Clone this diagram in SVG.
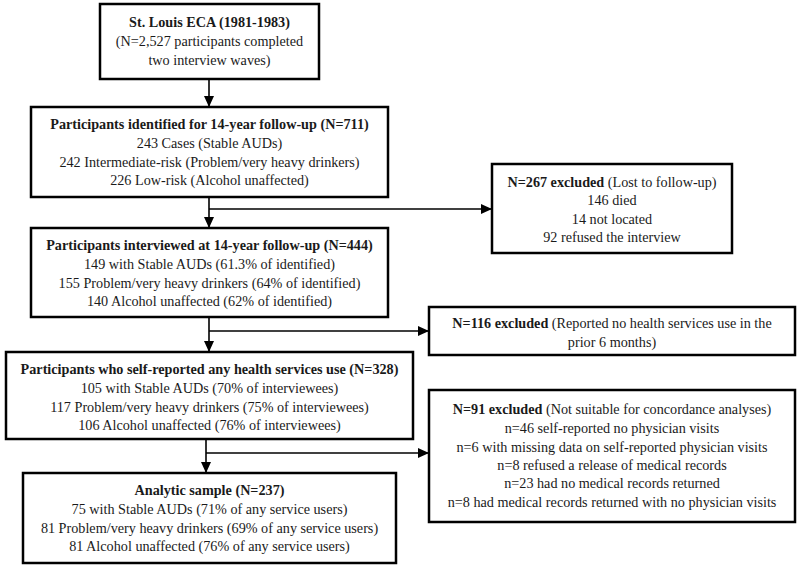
<svg xmlns="http://www.w3.org/2000/svg" width="800" height="569" viewBox="0 0 800 569">
<style>
.box{fill:#fff;stroke:#000;stroke-width:2.5}
text{font-family:"Liberation Serif","Times New Roman",serif;font-size:14.2px;fill:#1a1a1a;text-anchor:middle}
.b{font-weight:bold}
.con{stroke:#000;stroke-width:1.6;fill:none}
</style>
<defs>
<marker id="ah" markerUnits="userSpaceOnUse" markerWidth="11" markerHeight="10" refX="11" refY="5" orient="auto">
<path d="M0,0 L11,5 L0,10 z" fill="#000"/>
</marker>
</defs>
<rect width="800" height="569" fill="#fff"/>
<g id="connectors">
<path class="con" d="M209,79 V107" marker-end="url(#ah)"/>
<path class="con" d="M209,197 V228" marker-end="url(#ah)"/>
<path class="con" d="M209,209 H492" marker-end="url(#ah)"/>
<path class="con" d="M209,317 V352" marker-end="url(#ah)"/>
<path class="con" d="M209,331 H429" marker-end="url(#ah)"/>
<path class="con" d="M206,439 V473" marker-end="url(#ah)"/>
<path class="con" d="M206,453 H429" marker-end="url(#ah)"/>
</g>
<g id="n1">
<rect class="box" x="100" y="4" width="219" height="75"/>
<text x="209.5" y="27" class="b">St. Louis ECA (1981-1983)</text>
<text x="209.5" y="45.5">(N=2,527 participants completed</text>
<text x="209.5" y="64.5">two interview waves)</text>
</g>
<g id="n2">
<rect class="box" x="31" y="107" width="357" height="90"/>
<text x="209.5" y="128.5" class="b">Participants identified for 14-year follow-up (N=711)</text>
<text x="209.5" y="147.5">243 Cases (Stable AUDs)</text>
<text x="209.5" y="166.5">242 Intermediate-risk (Problem/very heavy drinkers)</text>
<text x="209.5" y="185">226 Low-risk (Alcohol unaffected)</text>
</g>
<g id="n3">
<rect class="box" x="492" y="164" width="240" height="89"/>
<text x="612" y="186.5"><tspan class="b">N=267 excluded</tspan> (Lost to follow-up)</text>
<text x="612" y="205">146 died</text>
<text x="612" y="223.5">14 not located</text>
<text x="612" y="242">92 refused the interview</text>
</g>
<g id="n4">
<rect class="box" x="31" y="228" width="357" height="89"/>
<text x="209.5" y="249.5" class="b">Participants interviewed at 14-year follow-up (N=444)</text>
<text x="209.5" y="268.5">149 with Stable AUDs (61.3% of identified)</text>
<text x="209.5" y="287.5">155 Problem/very heavy drinkers (64% of identified)</text>
<text x="209.5" y="306">140 Alcohol unaffected (62% of identified)</text>
</g>
<g id="n5">
<rect class="box" x="429" y="307" width="366" height="48"/>
<text x="612" y="327.5"><tspan class="b">N=116 excluded</tspan> (Reported no health services use in the</text>
<text x="612" y="346.5">prior 6 months)</text>
</g>
<g id="n6">
<rect class="box" x="6" y="352" width="407" height="87"/>
<text x="209.5" y="373.5" class="b">Participants who self-reported any health services use (N=328)</text>
<text x="209.5" y="392.5">105 with Stable AUDs (70% of interviewees)</text>
<text x="209.5" y="411.5">117 Problem/very heavy drinkers (75% of interviewees)</text>
<text x="209.5" y="430">106 Alcohol unaffected (76% of interviewees)</text>
</g>
<g id="n7">
<rect class="box" x="429" y="390" width="366" height="132"/>
<text x="612" y="413.5"><tspan class="b">N=91 excluded</tspan> (Not suitable for concordance analyses)</text>
<text x="612" y="432.5">n=46 self-reported no physician visits</text>
<text x="612" y="451.5">n=6 with missing data on self-reported physician visits</text>
<text x="612" y="469.5">n=8 refused a release of medical records</text>
<text x="612" y="488">n=23 had no medical records returned</text>
<text x="612" y="506.5">n=8 had medical records returned with no physician visits</text>
</g>
<g id="n8">
<rect class="box" x="23" y="473" width="373" height="90"/>
<text x="209.5" y="494.5" class="b">Analytic sample (N=237)</text>
<text x="209.5" y="513.5">75 with Stable AUDs (71% of any service users)</text>
<text x="209.5" y="532.5">81 Problem/very heavy drinkers (69% of any service users)</text>
<text x="209.5" y="551">81 Alcohol unaffected (76% of any service users)</text>
</g>
</svg>
